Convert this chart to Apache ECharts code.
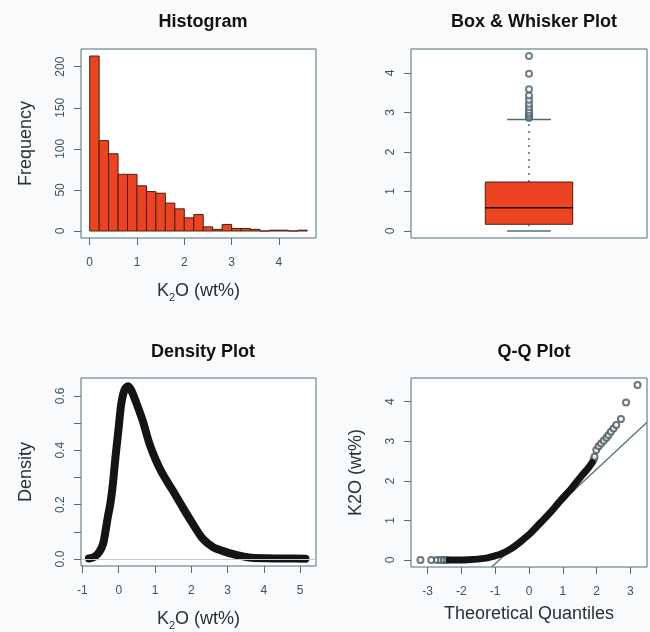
<!DOCTYPE html>
<html>
<head>
<meta charset="utf-8">
<script src="https://cdn.jsdelivr.net/npm/echarts@6/dist/echarts.min.js"></script>
<style>
  html, body { margin: 0; padding: 0; background: #fafbfd; }
  #chart { width: 650px; height: 632px; }
</style>
</head>
<body>
<div id="chart"></div>
<script>
// histogram: bin edges and counts
var binEdges = [0, 0.2, 0.4, 0.6, 0.8, 1.0, 1.2, 1.4, 1.6, 1.8, 2.0, 2.2, 2.4, 2.6, 2.8, 3.0, 3.2, 3.4, 3.6, 3.8, 4.0, 4.2, 4.4, 4.6]
var binCounts = [213, 110, 94, 69, 69, 55, 48, 46, 34, 27, 16, 20, 5, 2, 8, 3, 3, 2, 0, 1, 1, 0, 1]
var histXTicks = [0, 1, 2, 3, 4]
var histYTicks = [0, 50, 100, 150, 200]

// box plot: min, Q1, median, Q3, upper whisker
var boxStats = [0, 0.17, 0.59, 1.24, 2.82]
var boxOutliers = [2.86, 2.9, 2.95, 3.0, 3.06, 3.14, 3.22, 3.32, 3.43, 3.59, 3.98, 4.43]
var boxYTicks = [0, 1, 2, 3, 4]

// density curve [x, density]
var densityX = [-0.82, -0.66, -0.53, -0.43, -0.36, -0.30, -0.23, -0.16, -0.09, -0.01, 0.07, 0.16, 0.25, 0.34, 0.48, 0.66, 0.85, 1.03, 1.21, 1.49, 1.76, 2.04, 2.31, 2.59, 2.86, 3.23, 3.59, 4.05, 4.6, 5.15]
var densityY = [0.002, 0.009, 0.027, 0.057, 0.106, 0.155, 0.204, 0.277, 0.374, 0.472, 0.57, 0.622, 0.635, 0.622, 0.576, 0.509, 0.423, 0.362, 0.313, 0.252, 0.191, 0.13, 0.076, 0.045, 0.03, 0.015, 0.006, 0.003, 0.002, 0.001]
var densXTicks = [-1, 0, 1, 2, 3, 4, 5]
var densYTicks = [0, 0.1, 0.2, 0.3, 0.4, 0.5, 0.6]
var densYLabels = [0, 0.2, 0.4, 0.6]

// Q-Q plot: dense part, sparse points, reference line
var qqDenseX = [-2.37, -2.1, -1.81, -1.32, -1.03, -0.83, -0.54, -0.24, 0.05, 0.34, 0.64, 0.93, 1.23, 1.52, 1.76, 1.87]
var qqDenseY = [0, 0, 0.005, 0.04, 0.10, 0.15, 0.28, 0.47, 0.68, 0.94, 1.21, 1.50, 1.78, 2.09, 2.33, 2.46]
var qqSparseX = [-3.21, -2.89, -2.72, -2.61, -2.52, -2.44, 1.91, 1.94, 1.99, 2.06, 2.13, 2.21, 2.29, 2.35, 2.42, 2.50, 2.58, 2.72, 2.87, 3.21]
var qqSparseY = [0, 0, 0, 0, 0, 0, 2.53, 2.61, 2.78, 2.87, 2.94, 3.01, 3.09, 3.16, 3.24, 3.32, 3.41, 3.56, 3.98, 4.42]
var qqLineX = [-1.1, 3.49]
var qqLineY = [-0.177, 3.48]
var qqXTicks = [-3, -2, -1, 0, 1, 2, 3]
var qqYTicks = [0, 1, 2, 3, 4]

var slate = '#4f6c7b'
var labelColor = '#3a5262'
var titleColor = '#26323a'
var barFill = '#ec4421'
var barEdge = '#4a2014'
var font = 'Liberation Sans, Arial, sans-serif'

function zip(xs, ys) {
  return xs.map(function (x, i) { return [x, ys[i]] })
}

var histData = binCounts.map(function (c, i) {
  return [binEdges[i], binEdges[i + 1], c]
})

// R-ish axis, the box border comes from the grid
function makeAxis(gridIndex, min, max, ticks, labels, opts) {
  var ax = {
    type: 'value',
    gridIndex: gridIndex,
    min: min,
    max: max,
    axisLine: { show: false, onZero: false },
    splitLine: { show: false },
    axisTick: { show: true, length: 7, customValues: ticks, lineStyle: { color: slate } },
    axisLabel: {
      customValues: labels || ticks,
      fontSize: 12,
      fontFamily: font,
      color: labelColor,
      margin: 19
    },
    nameLocation: 'middle',
    nameTextStyle: {
      fontSize: 18,
      fontFamily: font,
      color: titleColor,
      rich: { sub: { fontSize: 11, fontFamily: font, color: titleColor, padding: [12, 0, 0, 0] } }
    }
  }
  for (var k in opts) {
    if (k === 'axisLabel') Object.assign(ax.axisLabel, opts[k])
    else ax[k] = opts[k]
  }
  return ax
}

var grids = [
  { left: 81, top: 49, width: 235, height: 189 },
  { left: 411, top: 49, width: 236, height: 189 },
  { left: 81, top: 378, width: 235, height: 189 },
  { left: 411, top: 378, width: 236, height: 189 }
].map(function (g) {
  return Object.assign({ show: true, borderColor: slate, borderWidth: 1, backgroundColor: '#ffffff' }, g)
})

function panelTitle(text, cx, top) {
  return {
    text: text,
    left: cx,
    top: top,
    textAlign: 'center',
    textStyle: { fontSize: 18, fontWeight: 'bold', fontFamily: font, color: '#111' }
  }
}

var yRot = { axisLabel: { rotate: 90, margin: 14 } }

var option = {
  backgroundColor: '#fafbfd',
  animation: false,
  title: [
    panelTitle('Histogram', 198, 8),
    panelTitle('Box & Whisker Plot', 529, 8),
    panelTitle('Density Plot', 198, 338),
    panelTitle('Q-Q Plot', 529, 338)
  ],
  grid: grids,
  xAxis: [
    makeAxis(0, -0.184, 4.784, histXTicks, null, { name: 'K{sub|2}O (wt%)', nameGap: 42 }),
    makeAxis(1, 0.46, 1.54, [], null, { show: false }),
    makeAxis(2, -1.04, 5.44, densXTicks, null, { name: 'K{sub|2}O (wt%)', nameGap: 42 }),
    makeAxis(3, -3.49, 3.49, qqXTicks, null, { name: 'Theoretical Quantiles', nameGap: 38 })
  ],
  yAxis: [
    makeAxis(0, -8.52, 221.52, histYTicks, null, Object.assign({ name: 'Frequency', nameGap: 46 }, yRot)),
    makeAxis(1, -0.177, 4.607, boxYTicks, null, yRot),
    makeAxis(2, -0.0256, 0.6656, densYTicks, densYLabels, {
      name: 'Density', nameGap: 46,
      axisLabel: { rotate: 90, margin: 14, formatter: function (v) { return v.toFixed(1) } }
    }),
    makeAxis(3, -0.177, 4.597, qqYTicks, null, Object.assign({ name: 'K2O (wt%)', nameGap: 46 }, yRot))
  ],
  series: [
    {
      // histogram bars
      type: 'custom',
      xAxisIndex: 0,
      yAxisIndex: 0,
      data: histData,
      encode: { x: [0, 1], y: 2 },
      renderItem: function (params, api) {
        var p0 = api.coord([api.value(0), api.value(2)])
        var p1 = api.coord([api.value(1), 0])
        return {
          type: 'rect',
          shape: { x: p0[0], y: p0[1], width: p1[0] - p0[0], height: p1[1] - p0[1] },
          style: { fill: barFill, stroke: barEdge, lineWidth: 1 }
        }
      }
    },
    {
      // box and whiskers
      type: 'custom',
      xAxisIndex: 1,
      yAxisIndex: 1,
      data: [[1].concat(boxStats)],
      encode: { x: 0, y: [1, 5] },
      renderItem: function (params, api) {
        var x = api.value(0)
        var lo = api.value(1), q1 = api.value(2), med = api.value(3), q3 = api.value(4), hi = api.value(5)
        function c(a, b) { return api.coord([a, b]) }
        var boxA = c(x - 0.2, q3), boxB = c(x + 0.2, q1)
        var whisk = { stroke: slate, lineWidth: 1.5, lineDash: [2, 5] }
        var cap = { stroke: slate, lineWidth: 1.5 }
        return {
          type: 'group',
          children: [
            { type: 'line', shape: { x1: c(x, q3)[0], y1: c(x, q3)[1], x2: c(x, hi)[0], y2: c(x, hi)[1] }, style: whisk },
            { type: 'line', shape: { x1: c(x, q1)[0], y1: c(x, q1)[1], x2: c(x, lo)[0], y2: c(x, lo)[1] }, style: whisk },
            { type: 'line', shape: { x1: c(x - 0.1, hi)[0], y1: c(x, hi)[1], x2: c(x + 0.1, hi)[0], y2: c(x, hi)[1] }, style: cap },
            { type: 'line', shape: { x1: c(x - 0.1, lo)[0], y1: c(x, lo)[1], x2: c(x + 0.1, lo)[0], y2: c(x, lo)[1] }, style: cap },
            {
              type: 'rect',
              shape: { x: boxA[0], y: boxA[1], width: boxB[0] - boxA[0], height: boxB[1] - boxA[1] },
              style: { fill: barFill, stroke: barEdge, lineWidth: 1 }
            },
            { type: 'line', shape: { x1: boxA[0], y1: c(x, med)[1], x2: boxB[0], y2: c(x, med)[1] }, style: { stroke: '#1a0d08', lineWidth: 1.5 } }
          ]
        }
      }
    },
    {
      type: 'scatter',
      xAxisIndex: 1,
      yAxisIndex: 1,
      data: boxOutliers.map(function (v) { return [1, v] }),
      symbol: 'emptyCircle',
      symbolSize: 6,
      itemStyle: { color: '#4a6170', borderWidth: 1 },
      z: 4
    },
    {
      // density curve
      type: 'line',
      xAxisIndex: 2,
      yAxisIndex: 2,
      data: zip(densityX, densityY),
      smooth: 0.3,
      showSymbol: false,
      lineStyle: { color: '#141414', width: 8, cap: 'round' },
      markLine: {
        silent: true,
        symbol: 'none',
        label: { show: false },
        lineStyle: { color: '#c9c9c9', type: 'solid', width: 1 },
        data: [{ yAxis: 0 }]
      },
      z: 3
    },
    {
      // Q-Q reference line
      type: 'line',
      xAxisIndex: 3,
      yAxisIndex: 3,
      data: zip(qqLineX, qqLineY),
      showSymbol: false,
      lineStyle: { color: slate, width: 1.2 }
    },
    {
      type: 'line',
      xAxisIndex: 3,
      yAxisIndex: 3,
      data: zip(qqDenseX, qqDenseY),
      smooth: 0.3,
      showSymbol: false,
      lineStyle: { color: '#141414', width: 7, cap: 'round' }
    },
    {
      type: 'scatter',
      xAxisIndex: 3,
      yAxisIndex: 3,
      data: zip(qqSparseX, qqSparseY),
      symbol: 'emptyCircle',
      symbolSize: 6,
      itemStyle: { color: '#45545d', borderWidth: 1 }
    }
  ]
}

var chart = echarts.init(document.getElementById('chart'))
chart.setOption(option)
</script>
</body>
</html>
